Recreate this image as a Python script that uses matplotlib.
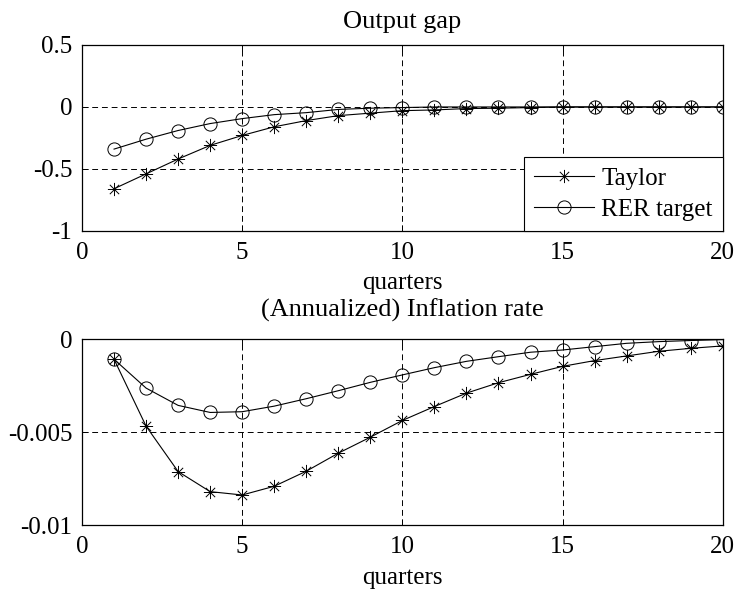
import matplotlib
matplotlib.use('Agg')
import matplotlib.pyplot as plt
from matplotlib.path import Path

quarters = list(range(1, 21))

# Output gap
gap_taylor = [-0.66, -0.54, -0.42, -0.31, -0.23, -0.16, -0.11, -0.07, -0.05, -0.03,
              -0.024, -0.013, -0.01, -0.005, 0.0, 0.0, 0.0, 0.0, 0.0, 0.0]
gap_rer = [-0.34, -0.26, -0.19, -0.134, -0.094, -0.062, -0.046, -0.02, -0.01, -0.005,
           0.0, 0.0, 0.0, 0.0, 0.0, 0.0, 0.0, 0.0, 0.0, 0.0]

# (Annualized) inflation rate
infl_taylor = [-0.00108, -0.00468, -0.00712, -0.0082, -0.00838, -0.00791, -0.0071, -0.00613,
               -0.00527, -0.00437, -0.00362, -0.0029, -0.00234, -0.00189, -0.00146, -0.00115,
               -0.0009, -0.00065, -0.00049, -0.00036]
infl_rer = [-0.00108, -0.00263, -0.00356, -0.00394, -0.0039, -0.0036, -0.0032, -0.00277,
            -0.00232, -0.00192, -0.00153, -0.00119, -0.00094, -0.0007, -0.00058, -0.0004,
            -0.00022, -0.00013, -0.00007, -0.00002]

plt.rcParams['font.family'] = ['Liberation Serif', 'DejaVu Serif']
plt.rcParams['font.size'] = 18

# matlab style asterisk: plus and cross on top of each other
d = 0.7071
asterisk = Path([(-1, 0), (1, 0), (0, -1), (0, 1), (-d, -d), (d, d), (-d, d), (d, -d)],
                [Path.MOVETO, Path.LINETO] * 4)

fig = plt.figure(figsize=(7.39, 5.92), dpi=100)
ax1 = fig.add_axes([0.111, 0.610, 0.867, 0.314])
ax2 = fig.add_axes([0.111, 0.113, 0.867, 0.314])


def style(ax, yticks, ylabels):
    ax.set_xlim(0, 20)
    ax.set_xticks([0, 5, 10, 15, 20])
    ax.set_yticks(yticks)
    ax.set_yticklabels(ylabels)
    ax.grid(True, color='black', linestyle=(0, (6, 4)), linewidth=0.7)
    ax.tick_params(direction='in', length=4, width=0.7, top=True, right=True)
    ax.tick_params(axis='y', pad=7)
    ax.tick_params(axis='x', pad=8)
    for s in ax.spines.values():
        s.set_linewidth(0.9)
    ax.set_xlabel('quarters', labelpad=6)


ax1.plot(quarters, gap_taylor, color='black', lw=0.8, marker=asterisk, ms=9.5,
         markeredgewidth=0.7, label='Taylor')
ax1.plot(quarters, gap_rer, color='black', lw=0.8, marker='o', ms=9.5,
         markerfacecolor='none', markeredgewidth=0.7, label='RER target')
ax1.set_ylim(-1, 0.5)
style(ax1, [-1, -0.5, 0, 0.5], ['-1', '-0.5', '0', '0.5'])
ax1.set_title('Output gap', fontsize=19, pad=12)
leg = ax1.legend(loc='lower right', fancybox=False, framealpha=1, edgecolor='black',
                 borderaxespad=0, handlelength=2.4, borderpad=0.4, labelspacing=0.35,
                 handletextpad=0.3, fontsize=18)
leg.get_frame().set_linewidth(0.8)

ax2.plot(quarters, infl_taylor, color='black', lw=0.8, marker=asterisk, ms=9.5,
         markeredgewidth=0.7)
ax2.plot(quarters, infl_rer, color='black', lw=0.8, marker='o', ms=9.5,
         markerfacecolor='none', markeredgewidth=0.7)
ax2.set_ylim(-0.01, 0)
style(ax2, [-0.01, -0.005, 0], ['-0.01', '-0.005', '0'])
ax2.set_title('(Annualized) Inflation rate', fontsize=19, pad=16)

fig.savefig('out.png', dpi=100)
